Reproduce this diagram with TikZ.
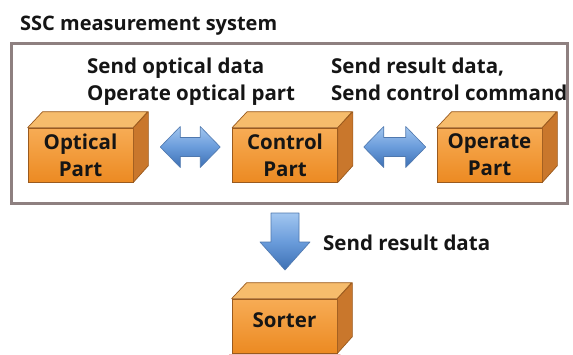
\documentclass[tikz,border=0pt]{standalone}
\usepackage{fontspec}
\setmainfont{Open Sans}
\usetikzlibrary{calc}
\pgfdeclarelayer{bg}
\pgfsetlayers{bg,main}
\definecolor{ortop}{HTML}{F7AC55}
\definecolor{orbot}{HTML}{EC8A22}
\definecolor{topc}{HTML}{F6BC6C}
\definecolor{sidec}{HTML}{C9772C}
\definecolor{edgec}{HTML}{9A5A1E}
\definecolor{glowc}{HTML}{E8A0A0}
\definecolor{bluetop}{HTML}{A2C6F0}
\definecolor{bluemid}{HTML}{6A9CDB}
\definecolor{bluebot}{HTML}{3D70B4}
\definecolor{blueedge}{HTML}{4F78AE}
\definecolor{blueglow}{HTML}{B8C8DC}
\definecolor{framec}{HTML}{8E8080}
\definecolor{txt}{HTML}{151515}
\tikzset{
  front/.style={draw=edgec, line width=0.7pt, top color=ortop, bottom color=orbot,
    minimum width=105pt, minimum height=54pt, inner sep=0pt},
  boxtxt/.style={align=center, inner sep=0pt, font=\bfseries\fontsize{20.5}{27}\selectfont, text=txt},
  topf/.style={draw=edgec, line width=0.7pt, fill=topc, line join=round},
  sidef/.style={draw=edgec, line width=0.7pt, fill=sidec, line join=round},
  glow/.style={draw=glowc, line width=6pt, opacity=0.7, line join=round},
  lbl/.style={font=\bfseries\fontsize{20.5}{27}\selectfont, text=txt, inner sep=0pt, anchor=base west},
  barrow/.style={draw=blueedge, line width=0.6pt, top color=bluetop, bottom color=bluebot, middle color=bluemid, line join=round},
  bglow/.style={draw=blueglow, line width=4pt, opacity=0.6, line join=round},
}
\newcommand\cubebox[5]{%
  \node[front] (#1) at (#2,#3) {};
  \filldraw[topf] (#1.north west) -- ++(15,-16) -- ++(105,0) -- (#1.north east) -- cycle;
  \filldraw[sidef] (#1.north east) -- ++(15,-16) -- ++(0,54) -- (#1.south east) -- cycle;
  \node[boxtxt, yshift=#5] (#1-t) at (#1.center) {#4};
  \begin{pgfonlayer}{bg}
  \draw[glow] (#1.south west) -- (#1.north west) -- ++(15,-16) -- ++(105,0) -- ++(0,54) -- (#1.south east) -- cycle;
  \end{pgfonlayer}}
% double arrow: #1 centre coordinate, #2 shaft length
\newcommand\dblarrow[2]{%
  \path[barrow] ($(#1)+(-20-#2/2,0)$) -- ++(20,-20.5) -- ++(0,11) -- ++(#2,0) -- ++(0,-11)
    -- ++(20,20.5) -- ++(-20,20.5) -- ++(0,-11) -- ++(-#2,0) -- ++(0,11) -- cycle;
  \begin{pgfonlayer}{bg}
  \draw[bglow] ($(#1)+(-20-#2/2,0)$) -- ++(20,-20.5) -- ++(0,11) -- ++(#2,0) -- ++(0,-11)
    -- ++(20,20.5) -- ++(-20,20.5) -- ++(0,-11) -- ++(-#2,0) -- ++(0,11) -- cycle;
  \end{pgfonlayer}}
\begin{document}
\begin{tikzpicture}[x=1pt,y=-1pt]
\useasboundingbox[fill=white] (0,0) rectangle (573,354);
% frame
\begin{pgfonlayer}{bg}
\draw[draw=glowc, line width=9pt, opacity=0.55] (11,43) rectangle (567,203);
\end{pgfonlayer}
\node[draw=framec, line width=3pt, minimum width=556pt, minimum height=160pt, inner sep=0pt] (sys) at (289,123) {};
% title and labels
\node[lbl, font=\bfseries\fontsize{20}{27}\selectfont] (title) at (20,30) {SSC measurement system};
\node[lbl] (l1a) at (87,73) {Send optical data};
\node[lbl] (l1b) at (87,100) {Operate optical part};
\node[lbl] (l2a) at (331,73) {Send result data,};
\node[lbl] (l2b) at (331,100) {Send control command};
\node[lbl] (l3) at (323,250) {Send result data};
% boxes
\cubebox{opt}{80.5}{155}{Optical\\Part}{0pt}
\cubebox{ctl}{285}{155}{Control\\Part}{0pt}
\cubebox{ope}{489.5}{155}{Operate\\Part}{0pt}
\cubebox{sor}{284.5}{326}{Sorter}{5.5pt}
% arrows between the parts
\coordinate (a1) at ($(opt.east)!0.5!(ctl.west)+(7.5,-8)$);
\coordinate (a2) at ($(ctl.east)!0.5!(ope.west)+(7.5,-8)$);
\dblarrow{a1}{20}
\dblarrow{a2}{22}
% down arrow
\coordinate (a3) at (285,213);
\path[barrow] ($(a3)+(-14,0)$) -- ++(28,0) -- ++(0,29) -- ++(11,0) -- ($(a3)+(0,57)$) -- ($(a3)+(-25,29)$) -- ++(11,0) -- cycle;
\begin{pgfonlayer}{bg}
\draw[bglow] ($(a3)+(-14,0)$) -- ++(28,0) -- ++(0,29) -- ++(11,0) -- ($(a3)+(0,57)$) -- ($(a3)+(-25,29)$) -- ++(11,0) -- cycle;
\end{pgfonlayer}
\end{tikzpicture}
\end{document}
